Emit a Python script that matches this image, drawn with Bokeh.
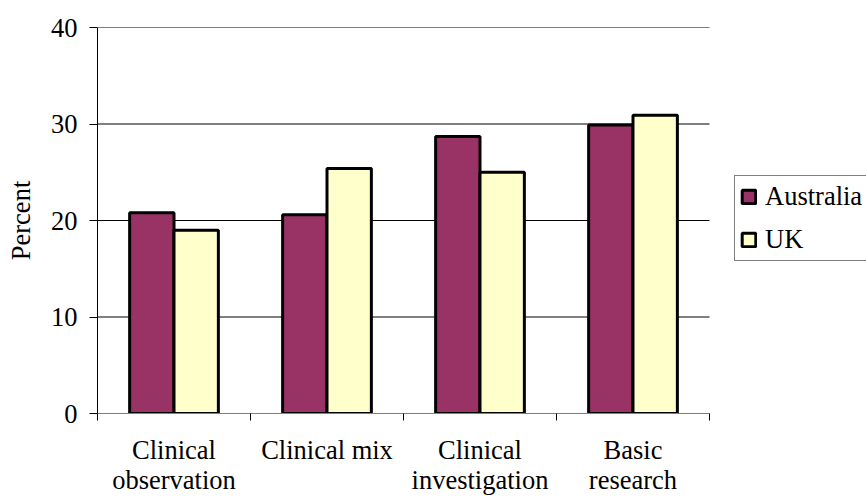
from bokeh.plotting import figure
from bokeh.models import (Range1d, FixedTicker, ColumnDataSource,
                          Legend, LegendItem)
from bokeh.transform import dodge
from bokeh.embed import file_html
from bokeh.resources import INLINE

# ---- data ----
categories = ["Clinical\nobservation", "Clinical mix", "Clinical\ninvestigation", "Basic\nresearch"]
australia = [20.8, 20.6, 28.7, 29.9]
uk = [19.0, 25.4, 25.0, 30.9]
series_names = ["Australia", "UK"]
y_ticks = [0, 10, 20, 30, 40]
y_label = "Percent"

# ---- style / layout ----
FONT = "Liberation Serif"
FS = "26.5px"
AUS_COLOR = "#993366"
UK_COLOR = "#FFFFCC"
BAR_W = 0.29
W, H = 866, 497
LEFT, TOP, BOTTOM = 97, 27, 84
CAT_AREA_PX = 612          # width of the category area (x axis length)

n = len(categories)
centers = [i + 0.5 for i in range(n)]
boundaries = list(range(n + 1))
frame_w = W - LEFT
x_end = n * frame_w / CAT_AREA_PX   # frame runs on to the right edge (legend area)

src = ColumnDataSource(dict(center=centers, aus=australia, uk=uk))
grid_src = ColumnDataSource(dict(y=y_ticks[1:], x0=[0] * (len(y_ticks) - 1),
                                 x1=[n] * (len(y_ticks) - 1)))

p = figure(width=W, height=H, output_backend="svg", toolbar_location=None,
           x_range=Range1d(0, x_end), y_range=Range1d(y_ticks[0], y_ticks[-1]),
           min_border_left=LEFT, min_border_right=0, min_border_top=TOP,
           min_border_bottom=BOTTOM)
p.outline_line_color = None
p.background_fill_color = "white"
p.border_fill_color = "white"
p.xgrid.visible = False
p.ygrid.visible = False

# horizontal gridlines limited to the category area
p.segment(x0="x0", x1="x1", y0="y", y1="y", source=grid_src,
          line_color="black", line_width=1, level="underlay")

r_aus = p.vbar(x=dodge("center", -BAR_W / 2, range=p.x_range), top="aus", bottom=0,
               width=BAR_W, source=src, fill_color=AUS_COLOR,
               line_color="black", line_width=3)
r_uk = p.vbar(x=dodge("center", BAR_W / 2, range=p.x_range), top="uk", bottom=0,
              width=BAR_W, source=src, fill_color=UK_COLOR,
              line_color="black", line_width=3)

# y axis
yax = p.yaxis[0]
yax.ticker = FixedTicker(ticks=y_ticks)
yax.major_tick_out = 8
yax.major_tick_in = 0
yax.minor_tick_out = 0
yax.minor_tick_in = 0
yax.axis_line_color = "black"
yax.major_tick_line_color = "black"
yax.major_label_text_font = FONT
yax.major_label_text_font_size = FS
yax.major_label_text_color = "black"
yax.major_label_standoff = 12
yax.axis_label = y_label
yax.axis_label_text_font = FONT
yax.axis_label_text_font_size = FS
yax.axis_label_text_font_style = "normal"
yax.axis_label_text_color = "black"
yax.axis_label_standoff = 12

# x axis: labels at category centres, boundary ticks as minor ticks
xax = p.xaxis[0]
xax.bounds = (0, n)
xax.ticker = FixedTicker(ticks=centers, minor_ticks=boundaries)
xax.major_tick_out = 0
xax.major_tick_in = 0
xax.minor_tick_out = 0
xax.minor_tick_in = -7      # drawn outward without reserving extra space
xax.minor_tick_line_color = "black"
xax.axis_line_color = "#808080"
xax.major_label_overrides = {c: lab for c, lab in zip(centers, categories)}
xax.major_label_text_font = FONT
xax.major_label_text_font_size = FS
xax.major_label_text_color = "black"
xax.major_label_text_line_height = 1.0
xax.major_label_standoff = 21

legend = Legend(items=[LegendItem(label=series_names[0], renderers=[r_aus]),
                       LegendItem(label=series_names[1], renderers=[r_uk])],
                location=(637, 152), orientation="vertical")
legend.label_text_font = FONT
legend.label_text_font_size = FS
legend.label_text_color = "black"
legend.glyph_width = 17
legend.glyph_height = 17
legend.label_height = 30
legend.label_standoff = 8
legend.spacing = 12
legend.padding = 5
legend.margin = 0
legend.border_line_color = "black"
legend.border_line_width = 1
legend.background_fill_color = "white"
legend.background_fill_alpha = 1
p.add_layout(legend)

open("out.html", "w").write(file_html(p, INLINE))
